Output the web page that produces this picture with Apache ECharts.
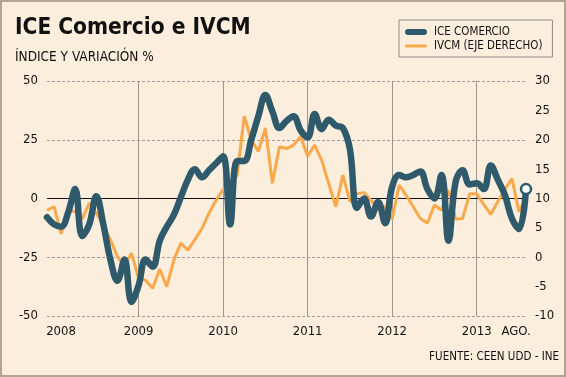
<!DOCTYPE html>
<html>
<head>
<meta charset="utf-8">
<script src="https://cdn.jsdelivr.net/npm/echarts@6/dist/echarts.min.js"></script>
<style>
  html, body { margin: 0; padding: 0; background: #FBEEDC; }
  #main { width: 566px; height: 377px; }
</style>
</head>
<body>
<div id="main"></div>
<script>
var font = "'DejaVu Sans Condensed', 'Liberation Sans', sans-serif";

// meses dic-2007 .. ago-2013
var months = [];
(function () {
    var y = 2007, m = 12;
    while (months.length < 69) {
        months.push(y + '-' + (m < 10 ? '0' + m : m));
        m++;
        if (m > 12) { m = 1; y++; }
    }
})();

var yearLines = ['2009-01', '2010-01', '2011-01', '2012-01', '2013-01'];
var xLabels = { '2008-01': '2008', '2009-01': '2009', '2010-01': '2010', '2011-01': '2011',
                '2012-01': '2012', '2013-01': '2013', '2013-08': 'AGO.' };

// ICE Comercio (eje izquierdo)
var ice = [-8, -11, -12, -6, 4, -16, -11, 1, -11, -26,
    -35, -26, -44, -37, -26, -29, -18, -12, -7, 0.5,
    8, 12.5, 9, 12, 15, 18, -11, 16, 16, 25,
    35, 44, 37, 30, 33, 35, 29, 26, 36, 29.5,
    33.5, 31, 30, 21, -4, 0, -7.7, -1.5, -10.5, 5,
    10, 9, 10, 11.5, 4, 0, 10, -18, 7, 12,
    6, 6.5, 4, 14, 8, 1.5, -8.5, -13, 4];

// IVCM variación % (eje derecho)
var ivcm = [8, 8.6, 4, 8, 7.8, 6.5, 9.2, 7.5, 5.5, 3,
    0.1, -1.6, 0.7, -3.6, -3.9, -5.3, -2, -5, -0.5, 2.4,
    1.2, 3, 4.9, 7.5, 9.7, 11.5, 12.5, 14, 24, 20,
    18, 22, 12.6, 18.8, 18.5, 19.1, 20.5, 17.2, 19.1, 16.5,
    12.5, 8.6, 14, 9.5, 10.8, 11, 9.7, 8.2, 8.6, 6.5,
    12.3, 10.5, 8.6, 6.6, 5.8, 8.9, 8, 11.4, 6.5, 6.6,
    10.8, 10.8, 9, 7.3, 9.5, 11.5, 13.4, 7.8, 10];

var iceData = ice.map(function (v, i) {
    if (i === ice.length - 1) {
        return { value: v, symbol: 'circle', symbolSize: 10,
                 itemStyle: { color: '#ffffff', borderColor: '#2E5A6C', borderWidth: 2.5 } };
    }
    return v;
});

var marks = yearLines.map(function (m) {
    return { xAxis: m, lineStyle: { color: '#9d958c', type: 'solid', width: 1 } };
});
marks.push({ yAxis: 0, lineStyle: { color: '#111', type: 'solid', width: 1 } });

var myChart = echarts.init(document.getElementById('main'));
var option = {
    backgroundColor: '#FBEEDC',
    animation: false,
    textStyle: { fontFamily: font },
    title: [
        { text: 'ICE Comercio e IVCM', left: 10, top: 12,
          textStyle: { fontFamily: font, fontSize: 22.5, fontWeight: 'bold', color: '#111' } },
        { text: 'ÍNDICE Y VARIACIÓN %', left: 10, top: 45,
          textStyle: { fontFamily: font, fontSize: 13.5, fontWeight: 'normal', color: '#111' } },
        { text: 'FUENTE: CEEN UDD - INE', right: 2, top: 346,
          textStyle: { fontFamily: font, fontSize: 11.5, fontWeight: 'normal', color: '#111' } }
    ],
    graphic: [{
        type: 'rect', silent: true, z: 100,
        shape: { x: 1, y: 1, width: 564, height: 375 },
        style: { fill: 'none', stroke: '#B5A292', lineWidth: 2 }
    }],
    legend: {
        left: 399, top: 20,
        orient: 'vertical',
        padding: [6, 10, 5, 6],
        itemGap: 2,
        itemWidth: 22,
        itemHeight: 8,
        borderColor: '#8a8a8a',
        borderWidth: 1,
        textStyle: { fontFamily: font, fontSize: 11.5, color: '#111', padding: [0, 0, 0, 2] },
        data: [
            { name: 'ICE COMERCIO',
              icon: 'path://M3,0 L19,0 A3,3 0 0 1 19,6 L3,6 A3,3 0 0 1 3,0 Z' },
            { name: 'IVCM (EJE DERECHO)',
              icon: 'path://M1.5,0 L20.5,0 A1.5,1.5 0 0 1 20.5,3 L1.5,3 A1.5,1.5 0 0 1 1.5,0 Z' }
        ]
    },
    grid: { left: 47, right: 40, top: 81, bottom: 61 },
    xAxis: {
        type: 'category',
        boundaryGap: false,
        data: months,
        axisLine: { show: false },
        axisTick: { show: false },
        splitLine: { show: false },
        axisLabel: {
            interval: function (i, v) { return xLabels[v] !== undefined; },
            margin: 9,
            fontSize: 13,
            color: '#111',
            fontFamily: font,
            formatter: function (v) {
                if (v === '2008-01') return '{a|2008}';
                if (v === '2013-08') return '{b|AGO.}';
                return xLabels[v];
            },
            rich: {
                a: { fontSize: 13, fontFamily: font, color: '#111', padding: [0, 0, 0, 14] },
                b: { fontSize: 13, fontFamily: font, color: '#111', padding: [0, 20, 0, 0] }
            }
        }
    },
    yAxis: [
        {
            type: 'value', min: -50, max: 50, interval: 25,
            axisLine: { show: false }, axisTick: { show: false },
            axisLabel: { margin: 9, fontSize: 13, color: '#111', fontFamily: font },
            splitLine: { lineStyle: { color: '#a39c94', type: [3, 2], width: 1 } }
        },
        {
            type: 'value', min: -10, max: 30, interval: 5,
            axisLine: { show: false }, axisTick: { show: false },
            axisLabel: { margin: 9, fontSize: 13, color: '#111', fontFamily: font },
            splitLine: { show: false }
        }
    ],
    series: [
        {
            name: 'IVCM (EJE DERECHO)',
            type: 'line',
            yAxisIndex: 1,
            data: ivcm,
            symbol: 'none',
            z: 2,
            lineStyle: { color: '#F9A94B', width: 3 },
            itemStyle: { color: '#F9A94B' }
        },
        {
            name: 'ICE COMERCIO',
            type: 'line',
            yAxisIndex: 0,
            data: iceData,
            smooth: 0.4,
            symbol: 'none',
            showAllSymbol: true,
            z: 3,
            lineStyle: { color: '#2E5A6C', width: 6.5, cap: 'round', join: 'round' },
            itemStyle: { color: '#2E5A6C' },
            markLine: {
                silent: true,
                symbol: 'none',
                label: { show: false },
                z: 1,
                data: marks
            }
        }
    ]
};
myChart.setOption(option);
</script>
</body>
</html>
